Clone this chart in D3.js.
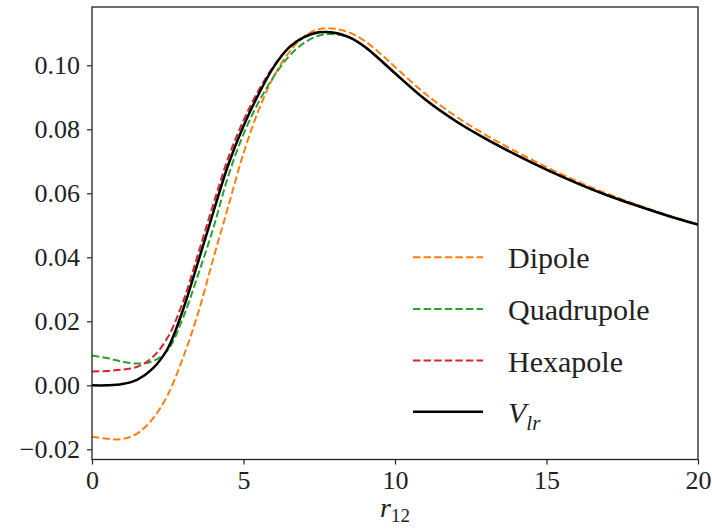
<!DOCTYPE html>
<html>
<head>
<meta charset="utf-8">
<script src="https://cdn.jsdelivr.net/npm/d3@7"></script>
<style>
  body { margin: 0; background: #fff; }
  svg text { font-family: "Liberation Serif", serif; fill: #222; }
</style>
</head>
<body>
<script>
// r grid shared by all series
const r12 = [0, 0.5, 1, 1.5, 2, 2.5, 3, 3.5, 4, 4.5, 5, 5.5, 6, 6.5, 7, 7.5, 8, 8.5, 9, 9.5, 10,
  11, 12, 13, 14, 15, 16, 17, 18, 19, 20];

const dipole = [-0.0161, -0.0167, -0.0168, -0.0150, -0.0105, -0.0030, 0.0085, 0.0225, 0.0395, 0.0560, 0.0725,
  0.0860, 0.0965, 0.1040, 0.1090, 0.1113, 0.1114, 0.1102, 0.1076, 0.1038, 0.0995,
  0.0911, 0.0841, 0.0782, 0.0730, 0.0682, 0.0638, 0.0599, 0.0564, 0.0532, 0.0503];

const quadrupole = [0.0093, 0.0085, 0.0074, 0.0068, 0.0075, 0.0110, 0.0210, 0.0345, 0.0490, 0.0655, 0.0785,
  0.0885, 0.0965, 0.1028, 0.1070, 0.1093, 0.1097, 0.1086, 0.1058, 0.1018, 0.0975,
  0.0893, 0.0826, 0.0770, 0.0720, 0.0674, 0.0632, 0.0594, 0.0561, 0.0530, 0.0502];

const hexapole = [0.0043, 0.0045, 0.0049, 0.0058, 0.0088, 0.0150, 0.0260, 0.0410, 0.0565, 0.0712, 0.0828,
  0.0922, 0.0998, 0.1056, 0.1089, 0.1104, 0.1102, 0.1087, 0.1058, 0.1018, 0.0975,
  0.0893, 0.0826, 0.0770, 0.0720, 0.0674, 0.0632, 0.0594, 0.0561, 0.0530, 0.0502];

const vlr = [0.0000, 0.0000, 0.0004, 0.0018, 0.0052, 0.0115, 0.0235, 0.0385, 0.0540, 0.0690, 0.0810,
  0.0910, 0.0995, 0.1055, 0.1088, 0.1103, 0.1102, 0.1087, 0.1058, 0.1018, 0.0975,
  0.0893, 0.0826, 0.0770, 0.0720, 0.0674, 0.0632, 0.0594, 0.0561, 0.0530, 0.0502];

const xTicks = [0, 5, 10, 15, 20];
const yTicks = [-0.02, 0.00, 0.02, 0.04, 0.06, 0.08, 0.10];

const seriesNames = ['Dipole', 'Quadrupole', 'Hexapole', 'V_lr'];
const seriesColors = ['#ff7f0e', '#2ca02c', '#d62728', '#000000'];
const seriesValues = [dipole, quadrupole, hexapole, vlr];

const w = 712, h = 531;
const padL = 92, padR = 698, padT = 7, padB = 459.5;

const svg = d3.select('body').append('svg')
  .attr('width', w)
  .attr('height', h);

const x = d3.scaleLinear().domain([0, 20]).range([padL, padR]);
const y = d3.scaleLinear().domain([-0.02, 0.10]).range([449.3, 65.3]);
y.domain([y.invert(padB), y.invert(padT)]).range([padB, padT]);

svg.append('defs').append('clipPath').attr('id', 'clip')
  .append('rect')
  .attr('x', padL).attr('y', padT)
  .attr('width', padR - padL).attr('height', padB - padT);

// lines
const line = d3.line()
  .x(d => x(d[0]))
  .y(d => y(d[1]))
  .curve(d3.curveCatmullRom.alpha(0.5));

const plot = svg.append('g').attr('clip-path', 'url(#clip)');
seriesValues.forEach((vals, i) => {
  const pts = r12.map((r, k) => [r, vals[k]]);
  const solid = i === 3;
  plot.append('path')
    .datum(pts)
    .attr('d', line)
    .attr('fill', 'none')
    .attr('stroke', seriesColors[i])
    .attr('stroke-width', solid ? 2.5 : 2)
    .attr('stroke-dasharray', solid ? null : '7.4,3.2');
});

// axes
const xAxis = svg.append('g')
  .attr('transform', `translate(0,${padB})`)
  .call(d3.axisBottom(x).tickValues(xTicks).tickFormat(d3.format('d')).tickSize(5).tickPadding(6));

const yAxis = svg.append('g')
  .attr('transform', `translate(${padL},0)`)
  .call(d3.axisLeft(y).tickValues(yTicks).tickFormat(d => d3.format('.2f')(d).replace('-', '\u2212')).tickSize(5).tickPadding(7));

[xAxis, yAxis].forEach(a => {
  a.select('.domain').remove();
  a.selectAll('line').attr('stroke', '#222').attr('stroke-width', 1.2);
  a.selectAll('text').attr('font-family', '"Liberation Serif", serif').attr('font-size', 26).attr('fill', '#222');
});

// frame
svg.append('rect')
  .attr('x', padL).attr('y', padT)
  .attr('width', padR - padL).attr('height', padB - padT)
  .attr('fill', 'none')
  .attr('stroke', '#222')
  .attr('stroke-width', 1.3);

// x label
const xl = svg.append('text')
  .attr('x', (padL + padR) / 2)
  .attr('y', 517)
  .attr('text-anchor', 'middle')
  .attr('font-size', 28);
xl.append('tspan').attr('font-style', 'italic').text('r');
xl.append('tspan').attr('font-size', 19).attr('dy', 5).text('12');

// legend
const legendY = [257.3, 309, 360.5, 411.7];
seriesNames.forEach((name, i) => {
  const ly = legendY[i];
  svg.append('line')
    .attr('x1', 413).attr('x2', 483)
    .attr('y1', ly).attr('y2', ly)
    .attr('stroke', seriesColors[i])
    .attr('stroke-width', i === 3 ? 2.5 : 2)
    .attr('stroke-dasharray', i === 3 ? null : '7.4,3.2');
  const t = svg.append('text')
    .attr('x', 508)
    .attr('y', ly + 11)
    .attr('font-size', 30);
  if (name === 'V_lr') {
    t.append('tspan').attr('font-style', 'italic').text('V');
    t.append('tspan').attr('font-style', 'italic').attr('font-size', 21).attr('dy', 7).text('lr');
  } else {
    t.text(name);
  }
});
</script>
</body>
</html>
